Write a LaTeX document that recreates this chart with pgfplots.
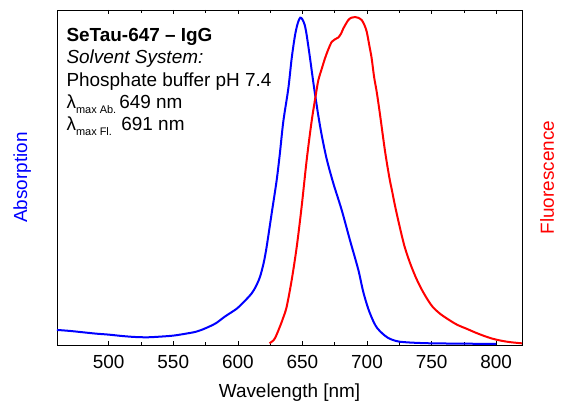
\documentclass[border=0pt]{standalone}
\usepackage{fontspec}
\setmainfont{Liberation Sans}
\usepackage{pgfplots}
\pgfplotsset{compat=1.18}

\begin{document}
\begin{tikzpicture}
\begin{axis}[
    name=ax,
    scale only axis,
    width=465bp, height=335bp,
    xmin=460, xmax=820,
    ymin=0, ymax=1,
    xtick={500,550,...,800},
    minor x tick num=1,
    ytick=\empty,
    minor ytick={0.04,0.08,...,0.97},
    tick align=inside,
    major tick length=4bp,
    minor tick length=3bp,
    tick style={black, line width=0.6bp},
    axis line style={line width=0.8bp},
    /pgf/number format/assume math mode=true,
    ticklabel style={font=\fontsize{19}{21}\selectfont},
    xticklabel style={yshift=-7bp},
    xlabel={Wavelength [nm]},
    xlabel style={font=\fontsize{19}{21}\selectfont, yshift=-8bp},
    ylabel={Absorption},
    ylabel style={font=\fontsize{19}{21}\selectfont, text=blue,
        at={(axis description cs:-0.075,0.5)}, anchor=center},
    clip=true,
]
% absorption
\addplot[blue, line width=2bp, smooth] coordinates {
(460,0.045) (470,0.042) (480,0.038) (490,0.034) (500,0.031) (510,0.027)
(520,0.024) (530,0.023) (540,0.025) (550,0.028) (560,0.034) (568,0.040)
(575,0.050) (583,0.065) (590,0.085) (599,0.108) (605,0.130) (610.7,0.154)
(614,0.175) (617.2,0.204) (620,0.245) (622.3,0.293) (626.2,0.393) (630,0.49)
(632.5,0.57) (635.2,0.667) (639.1,0.766) (641.7,0.856) (644.3,0.925)
(646.5,0.962) (648.3,0.977) (650,0.972) (651.8,0.955) (653.3,0.925)
(655.9,0.856) (658.4,0.785) (660.3,0.735) (662.5,0.68) (665,0.625)
(668.8,0.555) (673.9,0.483) (680.4,0.403) (686.8,0.313) (693.3,0.224)
(697,0.16) (701,0.108) (705,0.07) (708,0.05) (712,0.034) (716,0.022)
(720,0.015) (725,0.010) (735,0.007) (750,0.005) (775,0.004) (800,0.003)
};
% fluorescence
\addplot[red, line width=2bp, smooth] coordinates {
(624.5,0.005) (627,0.012) (629,0.022) (632.6,0.055) (635,0.08) (637.8,0.114)
(641.7,0.194) (645.6,0.293) (649.4,0.413)
(653.3,0.552) (657.1,0.667) (660.3,0.745) (662.3,0.79) (665,0.825)
(667.5,0.856) (670,0.882) (672.7,0.905) (675,0.912) (677.8,0.918)
(680,0.93) (681.7,0.945) (685.5,0.97) (688,0.977) (690.7,0.979)
(693,0.977) (695.9,0.97) (698,0.955) (699.8,0.935) (702,0.89)
(703.6,0.856) (705.5,0.80) (707.5,0.756) (710,0.69) (713.9,0.58)
(717.3,0.50) (719.4,0.46) (722,0.41) (725.5,0.35) (729,0.295)
(733.3,0.245) (738,0.20) (742.6,0.164) (747,0.135) (751,0.113)
(757,0.092) (764.3,0.073) (770,0.060) (777.4,0.048) (784,0.037)
(790,0.028) (797,0.019) (805,0.012) (812,0.008) (820,0.005)
};
\node[anchor=base west, font=\fontsize{19}{21}\selectfont\bfseries]
    at (axis description cs:0.013,0.907) {SeTau-647 -- IgG};
\node[anchor=base west, font=\fontsize{19}{21}\selectfont\itshape]
    at (axis description cs:0.013,0.839) {Solvent System:};
\node[anchor=base west, font=\fontsize{19}{21}\selectfont]
    at (axis description cs:0.013,0.773) {Phosphate buffer pH 7.4};
\node[anchor=base west, font=\fontsize{19}{21}\selectfont]
    at (axis description cs:0.013,0.707)
    {λ\raisebox{-5bp}{\fontsize{11}{12}\selectfont max Ab.}\,649 nm};
\node[anchor=base west, font=\fontsize{19}{21}\selectfont]
    at (axis description cs:0.013,0.639)
    {λ\raisebox{-5bp}{\fontsize{11}{12}\selectfont max Fl.}\,\,\,691 nm};
\end{axis}
\node[rotate=90, anchor=center, text=red, font=\fontsize{19}{21}\selectfont]
    at ([xshift=25bp]ax.east) {Fluorescence};
\path ([xshift=-57bp,yshift=-62bp]ax.south west) rectangle ([xshift=43bp,yshift=10bp]ax.north east);
\end{tikzpicture}
\end{document}
